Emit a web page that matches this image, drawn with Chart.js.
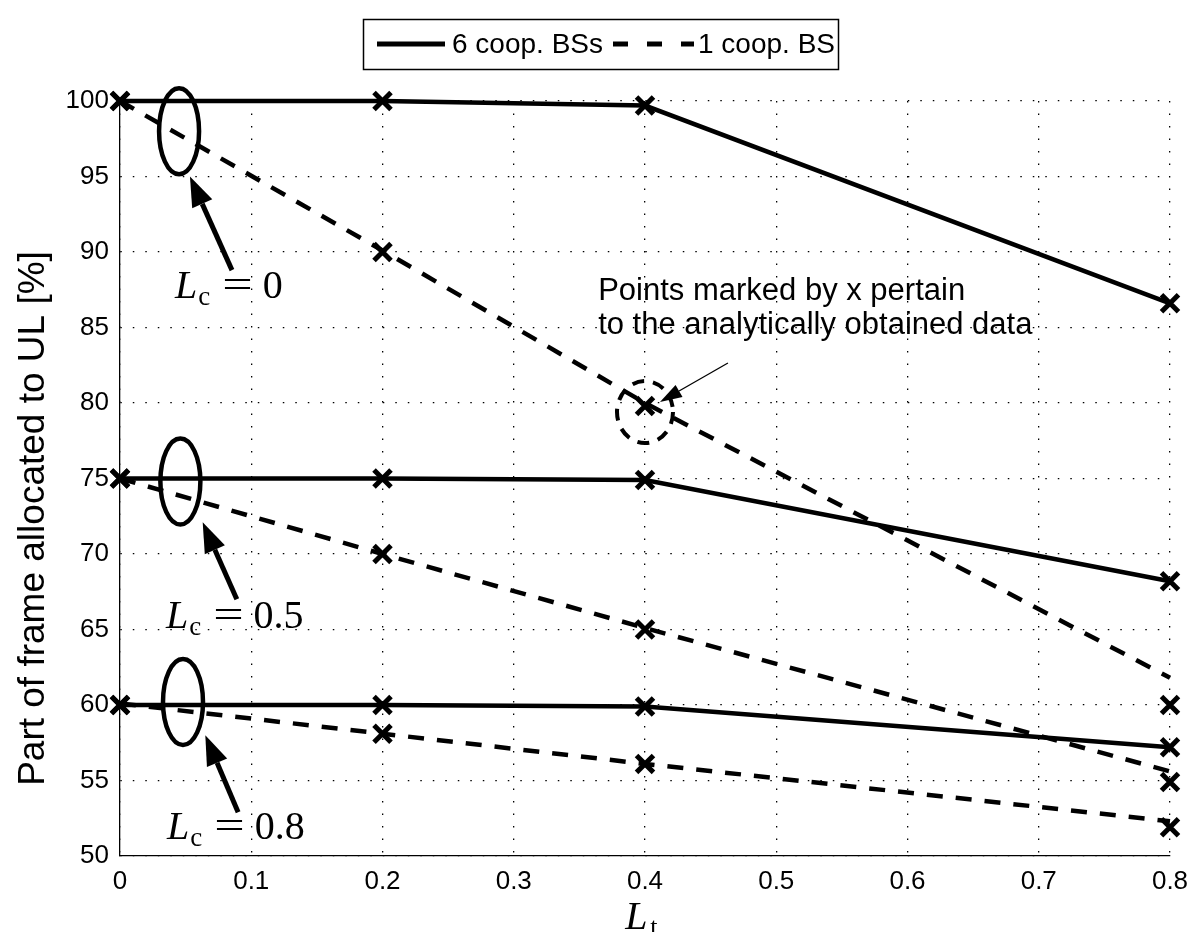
<!DOCTYPE html>
<html><head><meta charset="utf-8">
<script src="https://cdn.jsdelivr.net/npm/chart.js@4/dist/chart.umd.min.js"></script>
<style>html,body{margin:0;padding:0;background:#fff}</style>
</head><body>
<canvas id="c" width="1191" height="932"></canvas>
<script>
// ---- data ----
const xValues = [0, 0.2, 0.4, 0.8];
// 6 cooperating BSs (simulated lines; analytic points coincide)
const coop6_Lc0  = [100, 100, 99.7, 86.6];
const coop6_Lc05 = [75, 75, 74.9, 68.2];
const coop6_Lc08 = [60, 60, 59.9, 57.2];
// 1 cooperating BS, simulated (dashed lines)
const coop1_Lc0  = [100, 90.1, 80.0, 61.8];
const coop1_Lc05 = [75, 70.0, 65.1, 55.6];
const coop1_Lc08 = [60.1, 58.1, 56.1, 52.3];
// 1 cooperating BS, analytic points (x markers)
const coop1An_Lc0  = [100, 90.0, 79.8, 60.0];
const coop1An_Lc05 = [75, 70.0, 65.0, 54.9];
const coop1An_Lc08 = [60, 58.1, 56.1, 51.9];
const seriesLabels = ['6 coop. BSs', '1 coop. BS'];
const yTickLabels = ['50','55','60','65','70','75','80','85','90','95','100'];
const xTickLabels = ['0','0.1','0.2','0.3','0.4','0.5','0.6','0.7','0.8'];
const xTitle = ['L', 't'];
const yTitle = 'Part of frame allocated to UL [%]';
const lcLabels = [{v:'0', x:0.0419, y:86.95}, {v:'0.5', x:0.035, y:65.1}, {v:'0.8', x:0.0358, y:51.1}];
const noteLines = ['Points marked by x pertain', 'to the analytically obtained data'];

const pts = arr => arr.map((v,i)=>({x:xValues[i], y:v}));
const lineDs = (arr, dashed, label) => ({
  type:'line', label, data:pts(arr), borderColor:'#000', borderWidth:4.5,
  borderDash: dashed ? [16,13] : [], pointRadius:0, fill:false, tension:0, clip:false
});
const markDs = (arr) => ({
  type:'line', label:'', data:pts(arr), showLine:false, borderColor:'#000', backgroundColor:'#000',
  pointStyle:'crossRot', pointRadius:12, pointBorderWidth:5, clip:false
});

const ellipses = [{x:0.045, y:98.0}, {x:0.046, y:74.8}, {x:0.048, y:60.2}];
const arrows = [
  {tx:0.0853, ty:88.8, hx:0.0533, hy:95.0},
  {tx:0.089, ty:67.0, hx:0.063, hy:72.1},
  {tx:0.090, ty:52.9, hx:0.065, hy:58.0}
];

const annPlugin = {
  id:'ann',
  afterDatasetsDraw(chart){
    const {ctx, scales:{x, y}} = chart;
    const X = v=>x.getPixelForValue(v), Y = v=>y.getPixelForValue(v);
    ctx.save();
    ctx.strokeStyle='#000'; ctx.fillStyle='#000';
    ellipses.forEach(e=>{
      ctx.beginPath(); ctx.lineWidth=4.5; ctx.setLineDash([]);
      ctx.ellipse(X(e.x), Y(e.y), 20, 43, 0, 0, Math.PI*2); ctx.stroke();
    });
    const arrow = (x1,y1,x2,y2,lw,hl,hw)=>{
      const a = Math.atan2(y2-y1, x2-x1);
      const bx = x2 - hl*Math.cos(a), by = y2 - hl*Math.sin(a);
      ctx.beginPath(); ctx.lineWidth=lw; ctx.setLineDash([]);
      ctx.moveTo(x1,y1); ctx.lineTo(bx,by); ctx.stroke();
      ctx.beginPath();
      ctx.moveTo(x2,y2);
      ctx.lineTo(bx + hw/2*Math.sin(a), by - hw/2*Math.cos(a));
      ctx.lineTo(bx - hw/2*Math.sin(a), by + hw/2*Math.cos(a));
      ctx.closePath(); ctx.fill();
    };
    arrows.forEach(r=>arrow(X(r.tx),Y(r.ty),X(r.hx),Y(r.hy),5,30,22));
    // L_c labels
    lcLabels.forEach(l=>{
      let px = X(l.x), py = Y(l.y);
      ctx.textBaseline='alphabetic'; ctx.textAlign='left';
      ctx.font='italic 40px "Liberation Serif"'; ctx.fillText('L', px, py);
      px += ctx.measureText('L').width + 1;
      ctx.font='27px "Liberation Serif"'; ctx.fillText('c', px, py+7);
      px += ctx.measureText('c').width + 12;
      ctx.font='40px "Liberation Serif"';
      ctx.save(); ctx.translate(px, py); ctx.scale(1.35, 1); ctx.fillText('=', 0, 0); ctx.restore();
      px += ctx.measureText('=').width*1.35 + 10;
      ctx.fillText(l.v, px, py);
    });
    // note text
    ctx.font='31px "Liberation Sans"';
    noteLines.forEach((t,i)=>ctx.fillText(t, X(0.3643), Y(86.8) + i*34));
    // dashed circle around analytic point
    ctx.beginPath(); ctx.lineWidth=4; ctx.setLineDash([12,9]);
    ctx.ellipse(X(0.4), Y(79.4), 28, 31, 0, 0, Math.PI*2); ctx.stroke();
    ctx.setLineDash([]);
    arrow(X(0.4632), Y(82.65), X(0.4114), Y(80.07), 1.3, 22, 14);
    // x title
    ctx.font='italic 40px "Liberation Serif"';
    const xt = X(0.385), yt = 929;
    ctx.fillText(xTitle[0], xt, yt);
    ctx.font='26px "Liberation Serif"';
    ctx.fillText(xTitle[1], xt + 25, yt + 6);
    // y title
    ctx.save();
    ctx.translate(34, Y(75)+40); ctx.rotate(-Math.PI/2);
    ctx.font='37px "Liberation Sans"'; ctx.textAlign='center'; ctx.textBaseline='middle';
    ctx.fillText(yTitle, 0, 0);
    ctx.restore();
    // legend
    ctx.lineWidth=1.5; ctx.setLineDash([]);
    ctx.strokeRect(363.5, 19.5, 475, 50);
    ctx.font='28px "Liberation Sans"'; ctx.textBaseline='middle';
    ctx.beginPath(); ctx.lineWidth=5; ctx.moveTo(377,44); ctx.lineTo(445,44); ctx.stroke();
    ctx.fillText(seriesLabels[0], 452, 45);
    ctx.beginPath(); ctx.setLineDash([15,19]); ctx.moveTo(613,44); ctx.lineTo(694,44); ctx.stroke();
    ctx.setLineDash([]);
    ctx.fillText(seriesLabels[1], 698, 45);
    ctx.restore();
  }
};

new Chart(document.getElementById('c'), {
  data:{ datasets:[
    lineDs(coop6_Lc0,false,seriesLabels[0]), lineDs(coop6_Lc05,false,seriesLabels[0]), lineDs(coop6_Lc08,false,seriesLabels[0]),
    lineDs(coop1_Lc0,true,seriesLabels[1]), lineDs(coop1_Lc05,true,seriesLabels[1]), lineDs(coop1_Lc08,true,seriesLabels[1]),
    markDs(coop6_Lc0), markDs(coop6_Lc05), markDs(coop6_Lc08),
    markDs(coop1An_Lc0), markDs(coop1An_Lc05), markDs(coop1An_Lc08)
  ]},
  options:{
    responsive:false, animation:false, devicePixelRatio:1,
    layout:{padding:{top:101, right:21, left:0, bottom:0}},
    plugins:{legend:{display:false}, tooltip:{enabled:false}},
    scales:{
      x:{type:'linear', min:0, max:0.8,
        afterFit(s){ s.height = 76; s.paddingRight = 0; s.paddingLeft = 0; },
        ticks:{stepSize:0.1, padding:10, color:'#000', font:{family:'Liberation Sans', size:26},
          callback:(v)=>xTickLabels[Math.round(v*10)]},
        grid:{color:'#000', lineWidth:1.3, drawTicks:false},
        border:{display:true, color:'#000', width:1.3, dash:[1.5,11]}
      },
      y:{type:'linear', min:50, max:100,
        afterFit(s){ s.width = 120; s.paddingTop = 0; s.paddingBottom = 0; },
        ticks:{stepSize:5, padding:11, color:'#000', font:{family:'Liberation Sans', size:26},
          callback:(v)=>yTickLabels[Math.round((v-50)/5)]},
        grid:{color:'#000', lineWidth:1.3, drawTicks:false},
        border:{display:true, color:'#000', width:1.3, dash:[1.5,11]}
      }
    }
  },
  plugins:[annPlugin]
});
</script>
</body></html>
